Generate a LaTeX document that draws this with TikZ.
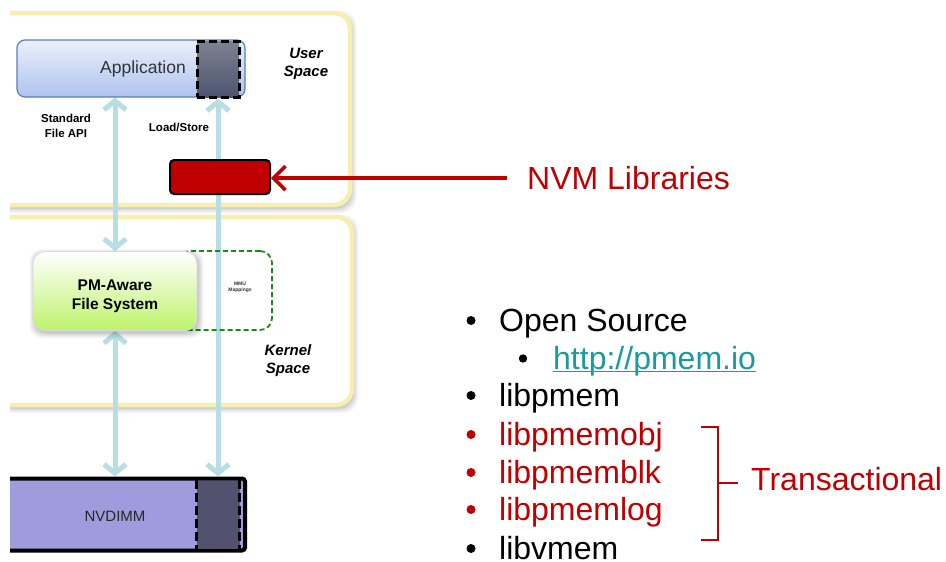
\documentclass[tikz,border=0pt]{standalone}
\usepackage{fontspec}
\setmainfont{Liberation Sans}
\usetikzlibrary{arrows.meta}

\definecolor{panelyellow}{HTML}{F6EFAE}
\definecolor{appborder}{HTML}{5B7DB8}
\definecolor{apptop}{HTML}{EAF0FB}
\definecolor{appbot}{HTML}{AEC3EE}
\definecolor{maptop}{HTML}{7E8291}
\definecolor{mapbot}{HTML}{4C5470}
\definecolor{nvmred}{HTML}{C00000}
\definecolor{pipeblue}{HTML}{B7DEE3}
\definecolor{fsbot}{HTML}{BDF36A}
\definecolor{mmugreen}{HTML}{1E8A1E}
\definecolor{dimm}{HTML}{9E9CDC}
\definecolor{dimmmap}{HTML}{52526F}
\definecolor{linkteal}{HTML}{169C9C}

\newcommand\setpx[2]{\fontsize{#1pt}{#2pt}\selectfont}
% soft shadow: x1 y1 x2 y2 corner radius, offset down and right
\newcommand\softshade[5]{%
  \foreach \g/\o in {5/0.04, 3.5/0.05, 2/0.06, 0.5/0.07}{%
    \fill[black, opacity=\o, rounded corners=#5]
      (#1-\g+1.5, #2-\g+3) rectangle (#3+\g+1.5, #4+\g+3);}}

\pgfdeclarelayer{back}
\pgfdeclarelayer{pipes}
\pgfsetlayers{back,pipes,main}

\begin{document}
\begin{tikzpicture}[x=1pt,y=-1pt,
  panel/.style={draw=panelyellow, line width=4.5pt, rounded corners=16pt, fill=white, inner sep=0pt},
  box/.style={inner sep=0pt},
  pipe/.style={draw=pipeblue, line width=5pt,
    {Straight Barb[length=9pt,width=22pt]}-{Straight Barb[length=9pt,width=22pt]}},
  spacelabel/.style={align=center, font=\bfseries\itshape\setpx{15}{18}},
  small/.style={align=center, font=\bfseries\setpx{11.5}{15}},
  item/.style={anchor=base west, inner sep=0pt, font=\setpx{32}{38}},
]
\useasboundingbox (0,0) rectangle (946,562);

% user / kernel space panels (left side runs off the edge)
\begin{pgfonlayer}{back}
\begin{scope}
  \clip (10,0) rectangle (946,562);
  \softshade{-30}{13}{350}{205}{16pt}
  \softshade{-30}{217}{352}{405}{16pt}
  \node[panel, minimum width=380pt, minimum height=192pt] (user) at (160,109) {};
  \node[panel, minimum width=382pt, minimum height=188pt] (kernel) at (161,311) {};
\end{scope}
\end{pgfonlayer}

\node[spacelabel] (userlbl) at (306,64) {User\\Space};
\node[spacelabel] (kernlbl) at (288,361) {Kernel\\Space};

% application
\node[box, draw=appborder, line width=1.2pt, rounded corners=8pt, top color=apptop,
  bottom color=appbot, minimum width=228pt, minimum height=57pt] (app) at (131,68.5) {};
\node[font=\setpx{17.5}{20}, text=black!80] (apptext) at (143,69) {Application};
\node[box, draw=black, line width=3pt, dash pattern=on 8pt off 4pt, top color=maptop,
  bottom color=mapbot, minimum width=42pt, minimum height=56pt] (appmap) at (218,69) {};

\node[small] (stdapi) at (66,126) {Standard\\File API};
\node[small] (ldst) at (179,127) {Load/Store};

% NVM libraries box
\node[box, draw=black, line width=2pt, fill=nvmred, rounded corners=4pt,
  minimum width=100pt, minimum height=34pt] (nvmlib) at (220,177) {};

% MMU mappings and file system
\node[box, draw=mmugreen, line width=1.8pt, dash pattern=on 5pt off 3pt, rounded corners=12pt,
  minimum width=94pt, minimum height=79pt] (mmu) at (225,290.5) {};
\node[align=center, font=\bfseries\setpx{5}{6}, text=black!80] (mmutext) at (240,287) {MMU\\Mappings};
\softshade{33}{251}{197}{330}{12pt}
\node[box, draw=white!85!black, line width=0.8pt, rounded corners=12pt, top color=white,
  bottom color=fsbot, minimum width=164pt, minimum height=79pt] (pmfs) at (115,291) {};
\node[align=center, font=\bfseries\setpx{15.5}{19}] (pmfstext) at (115,296) {PM-Aware\\File System};

% NVDIMM
\begin{scope}
  \clip (10,0) rectangle (946,562);
  \node[box, draw=black, line width=4pt, fill=dimm, rounded corners=3pt,
    minimum width=255pt, minimum height=72pt] (nvdimm) at (117.5,514.5) {};
  \node[box, fill=dimmmap, minimum width=43pt, minimum height=68pt] (dimmmap) at (218,514.5) {};
  \draw[line width=3pt, dash pattern=on 9pt off 4pt] (dimmmap.north west) -- (dimmmap.south west);
  \draw[line width=3pt, dash pattern=on 9pt off 4pt] (dimmmap.north east) -- (dimmmap.south east);
\end{scope}
\node[font=\setpx{15}{18}, text=black!85] (dimmtext) at (115,516) {NVDIMM};

% access paths
\begin{pgfonlayer}{pipes}
  \draw[pipe] (pmfs.north |- app.south) -- (pmfs.north);
  \draw[pipe] (pmfs.south) -- (pmfs.south |- nvdimm.north);
  \draw[pipe] (appmap.south) -- (appmap.south |- nvdimm.north);
\end{pgfonlayer}

% callout
\node[anchor=base west, inner sep=0pt, font=\setpx{32}{38}, text=nvmred] (nvmtxt) at (527,189.5) {NVM Libraries};
\draw[nvmred, line width=3.5pt, -{Straight Barb[length=12pt,width=24pt]}, shorten <=20pt]
  (nvmtxt.west) -- (nvmtxt.west -| nvmlib.east);

% library list
\node[item] (os) at (499,331) {Open Source};
\node[item, text=linkteal] (link) at (553,369) {http://pmem.io};
\draw[linkteal, line width=1.8pt] ([yshift=-2.5pt]link.base west) -- ([yshift=-2.5pt]link.base east);
\node[item] (lp) at (499,406) {libpmem};
\node[item, text=nvmred] (lpo) at (499,445) {libpmemobj};
\node[item, text=nvmred] (lpb) at (499,483) {libpmemblk};
\node[item, text=nvmred] (lpl) at (499,520) {libpmemlog};
\node[item] (lv) at (499,559) {libvmem};

\fill (471,320.5) circle (4.5pt);
\fill (523,358.5) circle (4.2pt);
\fill (471,395.5) circle (4.5pt);
\fill[nvmred] (471,434.5) circle (4.5pt);
\fill[nvmred] (471,472.5) circle (4.5pt);
\fill[nvmred] (471,509.5) circle (4.5pt);
\fill (471,548.5) circle (4.5pt);

% bracket for the transactional libraries
\draw[nvmred, line width=2pt] (701,427) -- (718,427) -- (718,540) -- (701,540);
\coordinate (brk) at (718,483);
\node[anchor=base west, inner sep=0pt, font=\setpx{32}{38}, text=nvmred] (trans) at (751,490) {Transactional};
\draw[nvmred, line width=2pt] (brk) -- (brk -| trans.west) [shorten >=13pt];
\end{tikzpicture}
\end{document}
